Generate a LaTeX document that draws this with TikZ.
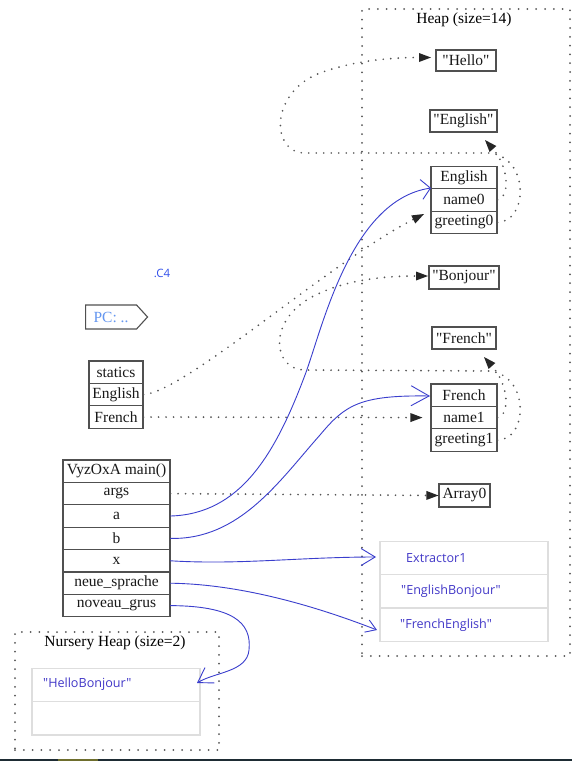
\documentclass[tikz,border=0pt]{standalone}
\usepackage{fontspec}
\setmainfont{Liberation Serif}[Ligatures=TeXOff]
\newfontfamily\uisans{Open Sans}[Ligatures=TeXOff]
\usetikzlibrary{arrows.meta,shapes.symbols}

\definecolor{pen}{RGB}{58,62,205}
\definecolor{uitext}{RGB}{66,56,200}
\definecolor{pclabel}{RGB}{100,150,240}
\definecolor{c4blue}{RGB}{50,80,235}
\definecolor{rule}{RGB}{80,80,80}
\definecolor{dots}{RGB}{85,85,85}
\definecolor{pane}{RGB}{222,222,222}
\definecolor{taskbar}{RGB}{30,44,52}
\definecolor{taskolive}{RGB}{110,110,45}

\tikzset{
  serif/.style={font=\fontsize{15.5}{17}\selectfont},
  cell/.style={draw=rule, line width=1.1pt, minimum width=#1, minimum height=22.4pt,
               inner sep=0pt, serif, text=black!90},
  panecell/.style={draw=pane, line width=1.4pt, minimum width=168pt, minimum height=33.4pt, inner sep=0pt},
  uilabel/.style={anchor=west, inner sep=0pt, text=uitext, font=\uisans\fontsize{12.6}{14}\selectfont},
  frame/.style={draw=dots, line width=2pt, line cap=round, dash pattern=on 0pt off 8.8pt,
                inner sep=0pt, anchor=north west},
  dotlink/.style={draw=dots, line width=1.9pt, line cap=round, dash pattern=on 0pt off 7.5pt,
                  -{Triangle[length=12pt,width=9pt,color=black!85,line width=0pt]}},
  pen/.style={draw=pen, line width=0.9pt, line cap=round, line join=round},
}

\begin{document}
\begin{tikzpicture}[x=1pt,y=-1pt]
\fill[white] (0,0) rectangle (572,761);
\useasboundingbox (0,0) rectangle (572,761);

% ---------------- heap ----------------
\node[frame, minimum width=208pt, minimum height=647pt] (heap) at (361,8) {};
\node[serif] (heaplbl) at (464,20) {Heap (size=14)};

\node[cell=60pt, minimum height=21pt] (s-hello) at (466,60.5) {"Hello"};
\node[cell=67pt, minimum height=22pt] (s-eng) at (463.5,121) {"English"};

\node[cell=66pt] (e-head)  at (464,177.5) {English};
\node[cell=66pt] (e-name)  at (464,199.9) {name0};
\node[cell=66pt] (e-greet) at (464,222.3) {greeting0};

\node[cell=70pt, minimum height=23pt] (s-bon) at (464,277.5) {"Bonjour"};
\node[cell=64pt, minimum height=22pt] (s-fr) at (464,338) {"French"};

\node[cell=66pt] (f-head)  at (464,395.2) {French};
\node[cell=66pt] (f-name)  at (464,417.6) {name1};
\node[cell=66pt] (f-greet) at (464,440.0) {greeting1};

\node[cell=51pt, minimum height=23pt] (arr) at (464.5,495.5) {Array0};

\node[panecell] (x-ext) at (464,558) {};
\node[panecell] (x-eb)  at (464,591.4) {};
\node[panecell] (x-fe)  at (464,624.8) {};
\node[uilabel] (t-ext) at (406,558) {Extractor1};
\node[uilabel] (t-eb)  at (401,591.4) {"EnglishBonjour"};
\node[uilabel] (t-fe)  at (400,624.8) {"FrenchEnglish"};

% ---------------- frames on the left ----------------
\node[font=\uisans\fontsize{11.5}{13}\selectfont, text=c4blue, inner sep=0pt] (c4) at (162,273) {.C4};
\node[signal, signal to=east, signal pointer angle=95, draw=rule, line width=1.1pt,
      minimum width=62pt, minimum height=24pt, inner sep=0pt, serif, text=pclabel,
      anchor=west] (pc) at (85,317) {PC: ..};

\node[cell=54pt] (st-h)   at (116,372.2) {statics};
\node[cell=54pt] (st-eng) at (116,394.6) {English};
\node[cell=54pt] (st-fr)  at (116,417.0) {French};

\node[cell=107pt] (m-h)    at (116.5,471.2) {VyzOxA main()};
\node[cell=107pt] (m-args) at (116.5,493.6) {args};
\node[cell=107pt] (m-a)    at (116.5,516.0) {a};
\node[cell=107pt] (m-b)    at (116.5,538.4) {b};
\node[cell=107pt] (m-x)    at (116.5,560.8) {x};
\node[cell=107pt] (m-ns)   at (116.5,583.2) {neue\_sprache};
\node[cell=107pt] (m-ng)   at (116.5,605.6) {noveau\_grus};

% ---------------- nursery ----------------
\node[frame, minimum width=204pt, minimum height=118pt] (nursery) at (14,631) {};
\node[serif] (nurlbl) at (115,643) {Nursery Heap (size=2)};
\node[panecell] (n-hb)    at (116,685) {};
\node[panecell] (n-empty) at (116,718.4) {};
\node[uilabel] (t-hb) at (43,684.5) {"HelloBonjour"};

% ---------------- connector end points ----------------
\coordinate (e-in)     at (424,214);
\coordinate (seng-in)  at (485,140);
\coordinate (hello-in) at (431,57.5);
\coordinate (sfr-in)   at (484,357);
\coordinate (bon-in)   at (428,276);
\coordinate (ehead-in) at (431,188);
\coordinate (fhead-in) at (430,396);
\coordinate (ext-in)   at (376,557);
\coordinate (fe-in)    at (377,630);
\coordinate (hb-in)    at (197,683);

% ---------------- references (dotted) ----------------
\draw[dotlink] (st-eng.east) .. controls (185,392) and (330,262) .. (e-in);
\draw[dotlink, shorten >=8pt] (st-fr.east) -- (f-name.west);
\draw[dotlink] (m-args.east) -- (arr.west);

\draw[dotlink] (e-name.east) .. controls (511,196) and (508,166) .. (seng-in);
\draw[dotlink] (e-greet.east) .. controls (528,222) and (530,158) .. (490,153)
   -- (305,153) .. controls (270,153) and (270,92) .. (320,73)
   .. controls (350,62) and (385,57.5) .. (hello-in);

\draw[dotlink] (f-name.east) .. controls (511,414) and (508,384) .. (sfr-in);
\draw[dotlink] (f-greet.east) .. controls (528,440) and (530,376) .. (490,371)
   -- (303,370) .. controls (273,368) and (268,322) .. (310,298)
   .. controls (335,284) and (370,276) .. (bon-in);

% ---------------- pen strokes ----------------
\draw[pen, -{Straight Barb[length=9pt,width=20pt]}] (m-a.east)
   .. controls (240,514) and (275,455) .. (305,375)
   .. controls (322,330) and (350,200) .. (ehead-in);
\draw[pen, -{Straight Barb[length=18pt,width=20pt]}] (m-b.east)
   .. controls (240,540) and (280,480) .. (320,435)
   .. controls (345,405) and (360,395) .. (fhead-in);
\draw[pen, -{Straight Barb[length=14pt,width=17pt]}] (m-x.east)
   .. controls (240,565) and (300,557) .. (ext-in);
\draw[pen, -{Straight Barb[length=10pt,width=13pt]}] (m-ns.east)
   .. controls (230,584) and (300,600) .. (fe-in);
\draw[pen, -{Straight Barb[length=14pt,width=18pt]}] (m-ng.east)
   .. controls (232,606) and (252,622) .. (249,650)
   .. controls (247,672) and (215,672) .. (hb-in);

% ---------------- bottom strip ----------------
\fill[taskbar] (0,758.5) rectangle (572,761);
\fill[taskolive] (58,758.5) rectangle (98,761);
\end{tikzpicture}
\end{document}
